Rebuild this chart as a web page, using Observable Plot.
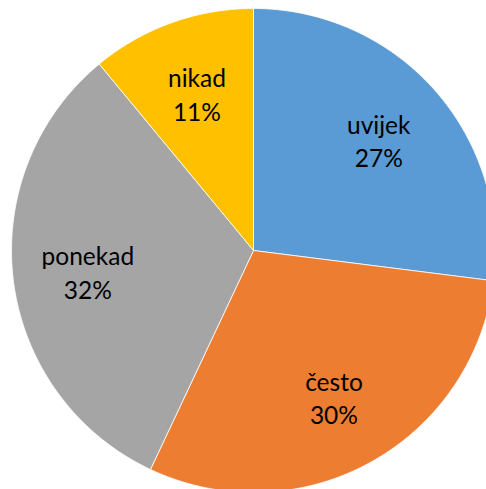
<!DOCTYPE html>
<html>
<head>
<meta charset="utf-8">
<script src="https://cdn.jsdelivr.net/npm/d3@7"></script>
<script src="https://cdn.jsdelivr.net/npm/@observablehq/plot@0.6"></script>
<style>
  html, body { margin: 0; padding: 0; background: #fff; }
  #chart svg { display: block; }
</style>
</head>
<body>
<div id="chart"></div>
<script>
const categories = ["uvijek", "često", "ponekad", "nikad"];
const values = [27, 30, 32, 11];
const colors = ["#5B9BD5", "#ED7D31", "#A5A5A5", "#FFC000"];

const R = 242;
const labelR = 0.69 * R;

const arcs = d3.pie().sort(null).value(d => d)(values);

// slice outlines: centre -> arc -> centre
const slicePts = [];
arcs.forEach((a, i) => {
  const c = categories[i];
  slicePts.push({c, x: 0, y: 0});
  const n = Math.max(2, Math.ceil((a.endAngle - a.startAngle) / (Math.PI / 360)));
  for (let k = 0; k <= n; k++) {
    const t = a.startAngle + (a.endAngle - a.startAngle) * k / n;
    slicePts.push({c, x: R * Math.sin(t), y: R * Math.cos(t)});
  }
  slicePts.push({c, x: 0, y: 0});
});

const labels = arcs.map((a, i) => {
  const m = (a.startAngle + a.endAngle) / 2;
  return {c: categories[i], x: labelR * Math.sin(m), y: labelR * Math.cos(m),
          text: categories[i] + "\n" + values[i] + "%"};
});

const chart = Plot.plot({
  width: 486,
  height: 489,
  margin: 0,
  x: {domain: [-253, 233], range: [0, 486], axis: null},
  y: {domain: [250, -239], range: [0, 489], axis: null},
  color: {domain: categories, range: colors},
  style: {background: "#fff"},
  marks: [
    Plot.line(slicePts, {x: "x", y: "y", z: "c", fill: "c", stroke: "#fff", strokeWidth: 0.8, curve: "linear"}),
    Plot.text(labels, {x: "x", y: "y", text: "text", fontSize: 24.5, lineHeight: 1.36,
      fontFamily: "Lato, 'Liberation Sans', sans-serif", fill: "#000"})
  ]
});
document.getElementById("chart").appendChild(chart);
</script>
</body>
</html>
